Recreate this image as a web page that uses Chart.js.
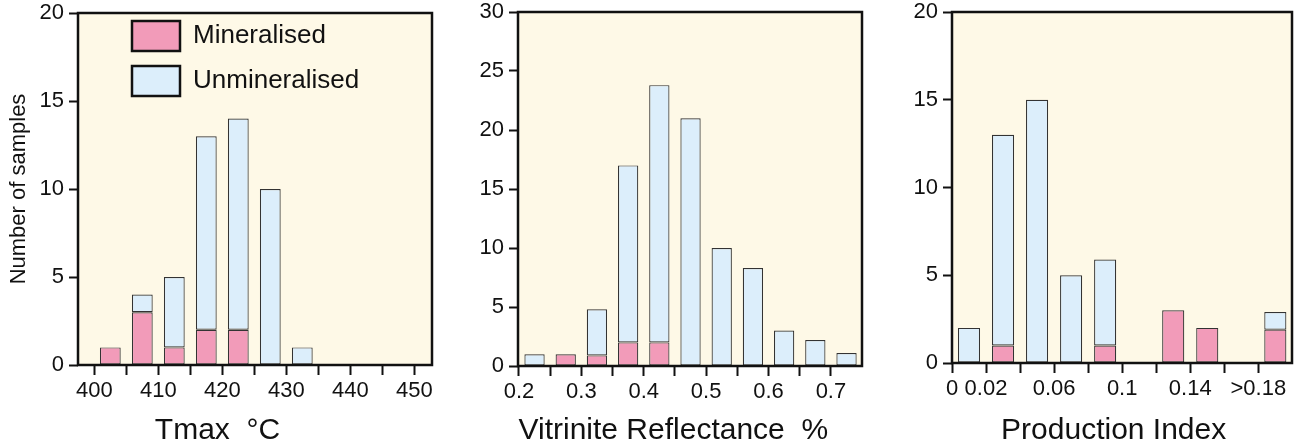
<!DOCTYPE html>
<html>
<head>
<meta charset="utf-8">
<title>Tmax, vitrinite reflectance and production index</title>
<script src="https://cdn.jsdelivr.net/npm/chart.js@4/dist/chart.umd.min.js"></script>
<style>
  html, body { margin: 0; padding: 0; background: #fff; overflow: hidden; }
  #wrap { position: relative; width: 1297px; height: 446px; }
  canvas { position: absolute; top: 0; }
</style>
</head>
<body>
<div id="wrap">
  <canvas id="tmaxChart" width="440" height="446" style="left:0px"></canvas>
  <canvas id="vrChart" width="430" height="446" style="left:440px"></canvas>
  <canvas id="piChart" width="427" height="446" style="left:870px"></canvas>
</div>
<script>
// --- daten: tmax (bin mitte, °C)
const tmaxBins = [402.5, 407.5, 412.5, 417.5, 422.5, 427.5, 432.5, 437.5, 442.5, 447.5];
const tmaxMineralised = [1, 3, 1, 2, 2, 0, 0, 0, 0, 0];
const tmaxUnmineralised = [0, 1, 4, 11, 12, 10, 1, 0, 0, 0];
const tmaxTicks = ['400', '', '410', '', '420', '', '430', '', '440', '', '450'];

// --- daten: vitrinite reflectance (%)
const vrBins = [0.225, 0.275, 0.325, 0.375, 0.425, 0.475, 0.525, 0.575, 0.625, 0.675, 0.725];
const vrMineralised = [0, 1, 0.9, 2, 2, 0, 0, 0, 0, 0, 0];
const vrUnmineralised = [1, 0, 3.9, 15, 21.8, 21, 10, 8.3, 3, 2.2, 1.1];
const vrTicks = ['0.2', '', '0.3', '', '0.4', '', '0.5', '', '0.6', '', '0.7'];

// --- daten: production index
const piBins = [0.01, 0.03, 0.05, 0.07, 0.09, 0.11, 0.13, 0.15, 0.17, 0.19];
const piMineralised = [0, 1, 0, 0, 1, 0, 3, 2, 0, 1.9];
const piUnmineralised = [2, 12, 15, 5, 4.9, 0, 0, 0, 0, 1];
const piTicks = ['0', '0.02', '', '0.06', '', '0.1', '', '0.14', '', '>0.18'];

const PINK = '#F29BB9';
const BLUE = '#DCEEFB';
const CREAM = '#FEF9E7';
const INK = '#111111';

Chart.defaults.font.family = "'Liberation Sans', Arial, Helvetica, sans-serif";
Chart.defaults.color = INK;
Chart.defaults.animation = false;

// hintergrund + rahmen um die plotfläche
const framePlugin = {
    id: 'frame',
    beforeDraw(chart) {
        const a = chart.chartArea;
        const ctx = chart.ctx;
        ctx.save();
        ctx.fillStyle = CREAM;
        ctx.fillRect(a.left, a.top, a.right - a.left, a.bottom - a.top);
        ctx.restore();
    },
    afterDatasetsDraw(chart) {
        const a = chart.chartArea;
        const ctx = chart.ctx;
        ctx.save();
        ctx.strokeStyle = INK;
        ctx.lineWidth = 2.5;
        ctx.strokeRect(a.left, a.top, a.right - a.left, a.bottom - a.top);
        ctx.restore();
    }
};

// legende ins plotfeld schieben (oben links)
const legendNudge = {
    id: 'legendNudge',
    afterLayout(chart) {
        const lg = chart.legend;
        if (!lg) return;
        lg.left = chart.chartArea.left + 39;
        lg.right = lg.left + lg.width;
        lg.top = chart.chartArea.top - 7;
        lg.bottom = lg.top + lg.height;
    }
};

function histogram(canvasId, cfg) {
    const ctx = document.getElementById(canvasId);
    const barStyle = {
        borderColor: '#333333',
        borderWidth: 1.2,
        borderSkipped: false,
        categoryPercentage: 1,
        barPercentage: 0.65
    };

    return new Chart(ctx, {
        type: 'bar',
        data: {
            datasets: [
                {
                    label: 'Mineralised',
                    data: cfg.bins.map((x, i) => ({ x: x, y: cfg.mineralised[i] })),
                    backgroundColor: PINK,
                    ...barStyle
                },
                {
                    label: 'Unmineralised',
                    data: cfg.bins.map((x, i) => ({ x: x, y: cfg.unmineralised[i] })),
                    backgroundColor: BLUE,
                    ...barStyle
                }
            ]
        },
        options: {
            responsive: false,
            layout: {
                padding: { top: cfg.top, right: cfg.right, bottom: 0, left: 0 }
            },
            plugins: {
                tooltip: { enabled: false },
                legend: {
                    display: !!cfg.legend,
                    position: 'chartArea',
                    align: 'start',
                    labels: {
                        font: { size: 26 },
                        color: INK,
                        boxWidth: 48,
                        boxHeight: 30,
                        padding: 15,
                        generateLabels(chart) {
                            return Chart.defaults.plugins.legend.labels.generateLabels(chart)
                                .map(l => ({ ...l, lineWidth: 2.5, strokeStyle: INK }));
                        }
                    }
                }
            },
            scales: {
                x: {
                    type: 'linear',
                    stacked: true,
                    offset: false,
                    min: cfg.xMin,
                    max: cfg.xMax,
                    border: { display: false },
                    grid: {
                        offset: false,
                        drawOnChartArea: false,
                        tickLength: 10,
                        tickWidth: 2,
                        color: INK
                    },
                    ticks: {
                        stepSize: cfg.step,
                        includeBounds: false,
                        autoSkip: false,
                        maxRotation: 0,
                        padding: 3,
                        font: { size: 22 },
                        color: INK,
                        callback: (value, index) => cfg.tickLabels[index]
                    },
                    title: {
                        display: true,
                        text: cfg.xTitle,
                        font: { size: 30, lineHeight: 1 },
                        padding: { top: 0, bottom: 0 },
                        color: INK
                    },
                    afterFit: s => { s.height = cfg.xHeight; s.paddingLeft = 0; s.paddingRight = 0; }
                },
                y: {
                    stacked: true,
                    min: 0,
                    max: cfg.yMax,
                    border: { display: false },
                    grid: {
                        drawOnChartArea: false,
                        tickLength: 9,
                        tickWidth: 2,
                        color: INK
                    },
                    ticks: {
                        stepSize: 5,
                        padding: 5,
                        font: { size: 22 },
                        color: INK
                    },
                    title: {
                        display: !!cfg.yTitle,
                        text: cfg.yTitle || '',
                        font: { size: 22, lineHeight: 1 },
                        padding: { top: 8, bottom: 0 },
                        color: INK
                    },
                    afterFit: s => { s.width = cfg.yWidth; s.paddingTop = 0; s.paddingBottom = 0; }
                }
            }
        },
        plugins: cfg.legend ? [framePlugin, legendNudge] : [framePlugin]
    });
}

// panel 1: tmax
histogram('tmaxChart', {
    bins: tmaxBins, mineralised: tmaxMineralised, unmineralised: tmaxUnmineralised,
    tickLabels: tmaxTicks, step: 5, xMin: 397.45, xMax: 452.77, yMax: 20,
    xTitle: 'Tmax  °C         ', yTitle: 'Number of samples', legend: true,
    top: 13, right: 8, yWidth: 78, xHeight: 81
});

// panel 2: vitrinite
histogram('vrChart', {
    bins: vrBins, mineralised: vrMineralised, unmineralised: vrUnmineralised,
    tickLabels: vrTicks, step: 0.05, xMin: 0.1985, xMax: 0.7498, yMax: 30,
    xTitle: 'Vitrinite Reflectance  %    ',
    top: 12, right: 8, yWidth: 78, xHeight: 80
});

// panel 3: production index
histogram('piChart', {
    bins: piBins, mineralised: piMineralised, unmineralised: piUnmineralised,
    tickLabels: piTicks, step: 0.02, xMin: 0, xMax: 0.1998, yMax: 20,
    xTitle: 'Production Index  ',
    top: 12, right: 5, yWidth: 82, xHeight: 83
});
</script>
</body>
</html>
